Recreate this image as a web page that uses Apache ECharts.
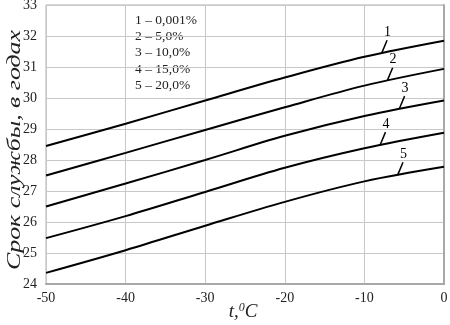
<!DOCTYPE html>
<html><head><meta charset="utf-8">
<script src="https://cdn.jsdelivr.net/npm/echarts@6/dist/echarts.min.js"></script>
<style>html,body{margin:0;padding:0;background:#fff}#c{width:450px;height:325px}</style>
</head><body><div id="c"></div>
<script>
const temps = [-50, -40, -30, -20, -10, 0];
const s1 = [28.45, 29.17, 29.92, 30.66, 31.33, 31.85];
const s2 = [27.50, 28.23, 28.97, 29.70, 30.40, 30.94];
const s3 = [26.50, 27.24, 28.00, 28.78, 29.42, 29.92];
const s4 = [25.48, 26.19, 26.97, 27.75, 28.38, 28.88];
const s5 = [24.36, 25.09, 25.88, 26.65, 27.31, 27.78];
const seriesNames = ['1', '2', '3', '4', '5'];
const legendLines = ['1 – 0,001%', '2 – 5,0%', '3 – 10,0%', '4 – 15,0%', '5 – 20,0%'];
const labelT = [-7.8, -7.1, -5.6, -8.0, -5.8];
const yTicks = [24, 25, 26, 27, 28, 29, 30, 31, 32, 33];
const xTicks = [-50, -40, -30, -20, -10, 0];
const yTitle = 'Срок службы, в годах';

const all = [s1, s2, s3, s4, s5];
function interp(arr, t) {
  for (let i = 0; i < temps.length - 1; i++) {
    if (t >= temps[i] && t <= temps[i + 1]) {
      const f = (t - temps[i]) / (temps[i + 1] - temps[i]);
      return arr[i] + f * (arr[i + 1] - arr[i]);
    }
  }
  return arr[arr.length - 1];
}
const font = 'Liberation Serif';
const yTitleSize = 19;
const cv = document.createElement('canvas').getContext('2d');
cv.font = 'italic ' + yTitleSize + 'px "' + font + '"';
const yTitleW = cv.measureText(yTitle).width || 180;
const yStretch = 240 / yTitleW;

const chart = echarts.init(document.getElementById('c'));
const series = all.map((arr, k) => {
  const t0 = labelT[k], y0 = interp(arr, t0) + 0.02;
  return {
    name: seriesNames[k], type: 'line', smooth: 0.35, symbol: 'none',
    lineStyle: { color: '#000', width: 2 },
    data: temps.map((t, i) => [t, arr[i]]),
    markLine: {
      silent: true, symbol: 'none', animation: false,
      lineStyle: { color: '#000', width: 1.5, type: 'solid' },
      label: { show: true, position: 'end', formatter: seriesNames[k], color: '#000', fontFamily: font, fontSize: 14, distance: 1 },
      data: [[{ coord: [t0, y0] }, { coord: [t0 + 0.65, y0 + 0.4] }]]
    }
  };
});
chart.setOption({
  animation: false,
  backgroundColor: '#fff',
  grid: { left: 46, right: 6, top: 5, bottom: 41, outerBoundsMode: 'none', containLabel: false, show: true, borderColor: '#b0b0b0', borderWidth: 1 },
  xAxis: {
    type: 'value', min: -50, max: 0, interval: 10,
    axisLine: { lineStyle: { color: '#a8a8a8', width: 2 } },
    axisTick: { show: false },
    splitLine: { lineStyle: { color: '#c8c8c8', width: 1 } },
    axisLabel: { fontFamily: font, fontSize: 14, color: '#222', margin: 7, formatter: v => xTicks.includes(v) ? String(v) : '' }
  },
  yAxis: {
    type: 'value', min: 24, max: 33, interval: 1,
    axisLine: { show: true, lineStyle: { color: '#a8a8a8', width: 2 } },
    axisTick: { show: false },
    splitLine: { lineStyle: { color: '#c8c8c8', width: 1 } },
    axisLabel: { fontFamily: font, fontSize: 14, color: '#222', margin: 9, formatter: v => yTicks.includes(v) ? String(v) : '' }
  },
  graphic: [{
    type: 'text', left: 135, top: 12,
    style: { text: legendLines.join('\n'), fontFamily: font, fontSize: 13.5, lineHeight: 16.3, fill: '#222' }
  }, {
    type: 'text', x: 15, y: 150, rotation: Math.PI / 2, scaleX: yStretch,
    style: { text: yTitle, fontFamily: font, fontStyle: 'italic', fontSize: yTitleSize, fill: '#222', align: 'center', verticalAlign: 'middle' }
  }, {
    type: 'text', x: 243, y: 312,
    style: {
      text: '{t|t,}{s|0}{t|C}', align: 'center', verticalAlign: 'middle',
      rich: { t: { fontFamily: font, fontStyle: 'italic', fontSize: 19, fill: '#222', color: '#222' }, s: { fontFamily: font, fontStyle: 'italic', fontSize: 12, fill: '#222', color: '#222', verticalAlign: 'top', padding: [0, 0, 9, 0] } }
    }
  }],
  series
});
</script></body></html>
